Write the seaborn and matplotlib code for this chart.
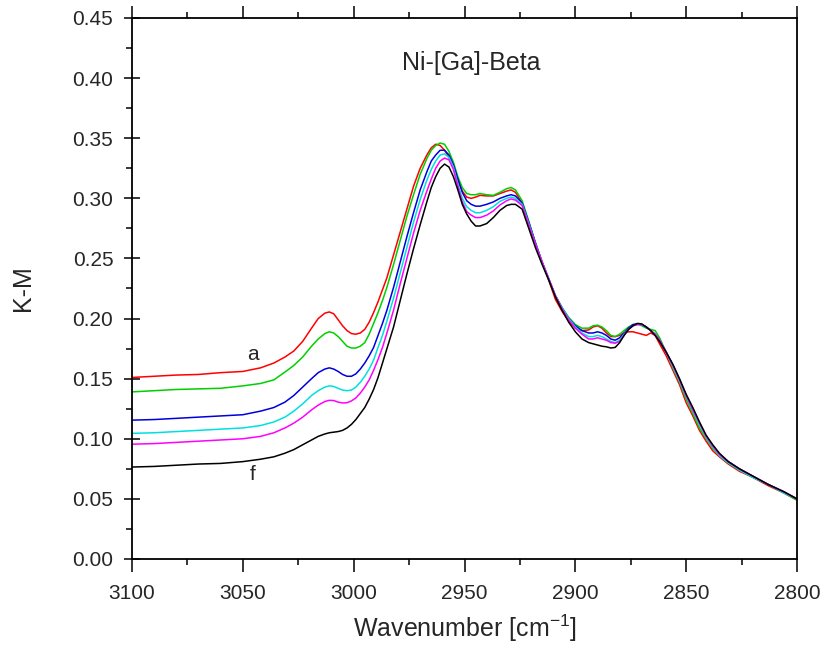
import matplotlib
matplotlib.use("Agg")
import matplotlib.pyplot as plt
from matplotlib.ticker import MultipleLocator
import seaborn as sns
import pandas as pd

wavenumber = [3100, 3090, 3080, 3070, 3060, 3050, 3042, 3036, 3031, 3027,
              3023, 3019, 3016, 3013, 3011, 3009, 3007, 3005, 3003, 3001,
              2999, 2997, 2995, 2993, 2991, 2989, 2987, 2985, 2982, 2979,
              2976, 2973, 2970, 2967, 2965, 2963, 2961, 2959, 2957, 2955,
              2953, 2951, 2949, 2947, 2945, 2943, 2940, 2937, 2934, 2931,
              2929, 2927, 2924, 2921, 2918, 2915, 2912, 2909, 2906, 2903,
              2900, 2897, 2894, 2892, 2890, 2888, 2886, 2884, 2882, 2880,
              2878, 2876, 2874, 2872, 2870, 2868, 2866, 2864, 2862, 2859,
              2856, 2853, 2850, 2847, 2844, 2841, 2838, 2835, 2831, 2826,
              2820, 2813, 2806, 2800]

red_a = [0.151, 0.152, 0.153, 0.1535, 0.155, 0.156, 0.159, 0.163, 0.168, 0.173,
         0.181, 0.192, 0.200, 0.2045, 0.2055, 0.204, 0.199, 0.194, 0.190, 0.1875,
         0.187, 0.188, 0.191, 0.197, 0.205, 0.214, 0.224, 0.234, 0.253, 0.272,
         0.291, 0.310, 0.325, 0.336, 0.342, 0.345, 0.344, 0.340, 0.334, 0.326,
         0.315, 0.306, 0.301, 0.300, 0.301, 0.3025, 0.302, 0.302, 0.304, 0.306,
         0.307, 0.305, 0.296, 0.279, 0.262, 0.247, 0.232, 0.216, 0.206, 0.198,
         0.192, 0.190, 0.1905, 0.193, 0.194, 0.192, 0.188, 0.185, 0.185, 0.186,
         0.188, 0.189, 0.189, 0.188, 0.187, 0.186, 0.188, 0.186, 0.179, 0.169,
         0.157, 0.145, 0.130, 0.119, 0.107, 0.098, 0.090, 0.085, 0.079, 0.073,
         0.068, 0.061, 0.055, 0.049]

green_b = [0.139, 0.140, 0.141, 0.1415, 0.142, 0.144, 0.146, 0.149, 0.1555, 0.161,
           0.168, 0.177, 0.183, 0.1875, 0.189, 0.188, 0.185, 0.181, 0.177, 0.1755,
           0.1755, 0.177, 0.180, 0.187, 0.196, 0.205, 0.215, 0.226, 0.245, 0.265,
           0.285, 0.303, 0.320, 0.333, 0.340, 0.344, 0.346, 0.345, 0.339, 0.330,
           0.318, 0.309, 0.304, 0.303, 0.303, 0.304, 0.303, 0.3025, 0.305, 0.308,
           0.309, 0.307, 0.298, 0.281, 0.263, 0.247, 0.233, 0.219, 0.209, 0.201,
           0.195, 0.192, 0.192, 0.194, 0.1945, 0.193, 0.190, 0.186, 0.185, 0.187,
           0.190, 0.193, 0.195, 0.1955, 0.194, 0.192, 0.191, 0.190, 0.184, 0.172,
           0.159, 0.147, 0.133, 0.121, 0.109, 0.100, 0.092, 0.086, 0.080, 0.074,
           0.068, 0.062, 0.055, 0.049]

blue_c = [0.1155, 0.116, 0.117, 0.118, 0.119, 0.120, 0.123, 0.126, 0.1305, 0.136,
          0.143, 0.150, 0.155, 0.158, 0.159, 0.158, 0.156, 0.1535, 0.152, 0.152,
          0.154, 0.158, 0.163, 0.169, 0.176, 0.186, 0.196, 0.207, 0.226, 0.247,
          0.268, 0.288, 0.307, 0.322, 0.331, 0.336, 0.340, 0.340, 0.336, 0.328,
          0.316, 0.305, 0.298, 0.295, 0.2935, 0.2935, 0.295, 0.297, 0.300, 0.302,
          0.303, 0.302, 0.296, 0.280, 0.263, 0.247, 0.233, 0.219, 0.209, 0.200,
          0.194, 0.190, 0.188, 0.188, 0.189, 0.188, 0.186, 0.183, 0.182, 0.184,
          0.188, 0.192, 0.195, 0.1955, 0.195, 0.193, 0.190, 0.187, 0.182, 0.172,
          0.161, 0.149, 0.136, 0.125, 0.113, 0.102, 0.094, 0.087, 0.081, 0.075,
          0.069, 0.062, 0.056, 0.050]

cyan_d = [0.1045, 0.105, 0.106, 0.107, 0.108, 0.109, 0.111, 0.114, 0.118, 0.123,
          0.129, 0.136, 0.140, 0.143, 0.144, 0.1435, 0.142, 0.1405, 0.140, 0.1405,
          0.143, 0.147, 0.152, 0.158, 0.1655, 0.176, 0.186, 0.198, 0.217, 0.238,
          0.259, 0.280, 0.299, 0.315, 0.324, 0.331, 0.336, 0.337, 0.334, 0.326,
          0.312, 0.300, 0.293, 0.290, 0.288, 0.288, 0.290, 0.293, 0.2975, 0.300,
          0.301, 0.300, 0.295, 0.279, 0.262, 0.247, 0.233, 0.219, 0.209, 0.200,
          0.193, 0.188, 0.185, 0.185, 0.186, 0.185, 0.183, 0.181, 0.180, 0.182,
          0.187, 0.191, 0.194, 0.195, 0.195, 0.193, 0.190, 0.187, 0.182, 0.172,
          0.160, 0.148, 0.135, 0.123, 0.112, 0.101, 0.093, 0.086, 0.080, 0.074,
          0.068, 0.062, 0.055, 0.050]

magenta_e = [0.0955, 0.096, 0.097, 0.098, 0.099, 0.100, 0.102, 0.105, 0.109, 0.113,
             0.118, 0.124, 0.128, 0.131, 0.132, 0.1318, 0.1305, 0.1298, 0.130, 0.1315,
             0.134, 0.138, 0.143, 0.149, 0.157, 0.166, 0.176, 0.188, 0.207, 0.229,
             0.250, 0.271, 0.290, 0.306, 0.316, 0.325, 0.331, 0.3335, 0.332, 0.324,
             0.310, 0.297, 0.289, 0.286, 0.284, 0.284, 0.286, 0.2895, 0.2945, 0.298,
             0.2995, 0.2985, 0.294, 0.278, 0.262, 0.247, 0.233, 0.219, 0.208, 0.199,
             0.192, 0.187, 0.183, 0.183, 0.184, 0.183, 0.182, 0.180, 0.1795, 0.181,
             0.186, 0.191, 0.194, 0.195, 0.195, 0.193, 0.190, 0.187, 0.182, 0.172,
             0.161, 0.149, 0.136, 0.124, 0.113, 0.102, 0.094, 0.087, 0.081, 0.075,
             0.069, 0.062, 0.056, 0.050]

black_f = [0.0765, 0.077, 0.078, 0.079, 0.0795, 0.081, 0.083, 0.085, 0.088, 0.091,
           0.095, 0.099, 0.102, 0.104, 0.105, 0.1055, 0.106, 0.107, 0.109, 0.112,
           0.116, 0.121, 0.126, 0.133, 0.141, 0.151, 0.163, 0.175, 0.193, 0.215,
           0.237, 0.258, 0.278, 0.297, 0.309, 0.318, 0.325, 0.3285, 0.326, 0.318,
           0.307, 0.295, 0.287, 0.281, 0.277, 0.277, 0.279, 0.284, 0.290, 0.294,
           0.295, 0.295, 0.291, 0.275, 0.259, 0.245, 0.232, 0.218, 0.207, 0.197,
           0.189, 0.183, 0.180, 0.179, 0.178, 0.177, 0.1765, 0.1755, 0.176, 0.180,
           0.186, 0.191, 0.194, 0.196, 0.1955, 0.193, 0.190, 0.186, 0.181, 0.172,
           0.162, 0.150, 0.137, 0.126, 0.114, 0.103, 0.095, 0.088, 0.081, 0.075,
           0.069, 0.062, 0.056, 0.050]

series_names = ["a", "b", "c", "d", "e", "f"]
series_values = [red_a, green_b, blue_c, cyan_d, magenta_e, black_f]
series_colors = ["#ff0000", "#00d000", "#0000dd", "#00e0e0", "#ff00ff", "#000000"]

title_text = "Ni-[Ga]-Beta"
x_label = "Wavenumber [cm$^{-1}$]"
y_label = "K-M"

sns.set_style("ticks")
plt.rcParams["font.family"] = ["Liberation Sans", "DejaVu Sans"]
plt.rcParams["mathtext.fontset"] = "custom"
plt.rcParams["mathtext.rm"] = "Liberation Sans"
plt.rcParams["mathtext.it"] = "Liberation Sans"

rows = []
for name, vals in zip(series_names, series_values):
    for w, v in zip(wavenumber, vals):
        rows.append({"wn": w, "km": v, "series": name})
df = pd.DataFrame(rows)

fig = plt.figure(figsize=(8.25, 6.48), dpi=100)
ax = fig.add_axes([132 / 825, 1 - 559 / 648, 665 / 825, 541 / 648])

sns.lineplot(data=df, x="wn", y="km", hue="series", hue_order=series_names,
             palette=dict(zip(series_names, series_colors)), sort=False,
             estimator=None, linewidth=1.1, legend=False, ax=ax)
for ln in ax.get_lines():
    ln.set_solid_joinstyle("round")

ax.set_xlim(3100, 2800)
ax.set_ylim(0, 0.45)
ax.xaxis.set_major_locator(MultipleLocator(50))
ax.xaxis.set_minor_locator(MultipleLocator(25))
ax.yaxis.set_major_locator(MultipleLocator(0.05))
ax.yaxis.set_minor_locator(MultipleLocator(0.025))
ax.yaxis.set_major_formatter(plt.FormatStrFormatter("%.2f"))

for s in ax.spines.values():
    s.set_linewidth(1.3)
    s.set_color("black")

ax.tick_params(axis="x", which="major", direction="out", length=9, width=1.3,
               labelsize=15, top=True, bottom=True, pad=9)
ax.tick_params(axis="x", which="minor", direction="out", length=4, width=1.3,
               top=True, bottom=True)
ax.tick_params(axis="y", which="major", direction="inout", length=11, width=1.3,
               labelsize=15, left=True, right=False, pad=8)
ax.tick_params(axis="y", which="minor", direction="out", length=4, width=1.3,
               left=True, right=False)
ax.tick_params(labeltop=False, labelright=False)

ax.set_xlabel(x_label, fontsize=18, labelpad=7)
ax.set_ylabel(y_label, fontsize=18, labelpad=27)

ax.text(2978.2, 0.4126, title_text, fontsize=18, ha="left", va="center")
ax.text(3045.4, 0.1697, "a", fontsize=15, ha="center", va="center")
ax.text(3045.4, 0.070, "f", fontsize=15, ha="center", va="center")

fig.savefig("out.png", dpi=100)
